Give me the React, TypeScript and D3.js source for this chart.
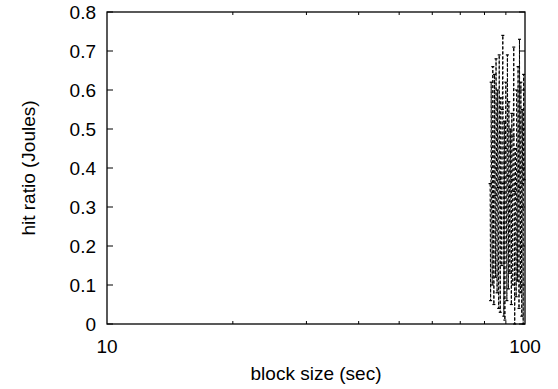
import React, { useEffect, useRef } from 'react'
import * as d3 from 'd3'

// block size (sec) and hit ratio samples
const blockSize = [
  82.5, 82.75, 83.0, 83.25, 83.5, 83.75, 84.0, 84.25, 84.5, 84.75,
  85.0, 85.25, 85.5, 85.75, 86.0, 86.25, 86.5, 86.75, 87.0, 87.25,
  87.5, 87.75, 88.0, 88.25, 88.5, 88.75, 89.0, 89.25, 89.5, 89.75,
  90.0, 90.25, 90.5, 90.75, 91.0, 91.25, 91.5, 91.75, 92.0, 92.25,
  92.5, 92.75, 93.0, 93.25, 93.5, 93.75, 94.0, 94.25, 94.5, 94.75,
  95.0, 95.25, 95.5, 95.75, 96.0, 96.25, 96.5, 96.75, 97.0, 97.25,
  97.5, 97.75, 98.0, 98.25, 98.5, 98.75, 99.0, 99.25, 99.5
]
const hitRatio = [
  0.36, 0.06, 0.62, 0.30, 0.10, 0.66, 0.38, 0.05, 0.64, 0.33,
  0.12, 0.68, 0.40, 0.08, 0.60, 0.35, 0.04, 0.69, 0.37, 0.03,
  0.58, 0.34, 0.15, 0.55, 0.74, 0.36, 0.02, 0.52, 0.01, 0.45,
  0.62, 0.30, 0.06, 0.69, 0.38, 0.09, 0.57, 0.35, 0.13, 0.50,
  0.33, 0.05, 0.54, 0.37, 0.10, 0.48, 0.71, 0.34, 0.00, 0.45,
  0.36, 0.07, 0.60, 0.32, 0.11, 0.66, 0.39, 0.04, 0.73, 0.35,
  0.08, 0.62, 0.30, 0.02, 0.55, 0.36, 0.00, 0.64, 0.37
]
const yTicks = [0, 0.1, 0.2, 0.3, 0.4, 0.5, 0.6, 0.7, 0.8]
const xLabels = [10, 100]
const xMinor = [20, 30, 40, 50, 60, 70, 80, 90]

const width = 558
const height = 389
const margin = { top: 12, right: 33, bottom: 65, left: 107 }
const font = '"Liberation Sans", Arial, Helvetica, sans-serif'
const fontSize = '19px'

export default function App () {
  const ref = useRef<SVGSVGElement>(null)

  useEffect(() => {
    const svg = d3.select(ref.current)
    svg.selectAll('*').remove()

    const x = d3.scaleLog().domain([10, 100]).range([margin.left, width - margin.right])
    const y = d3.scaleLinear().domain([0, 0.8]).range([height - margin.bottom, margin.top])
    const x0 = x.range()[0], x1 = x.range()[1]
    const y0 = y.range()[0], y1 = y.range()[1]

    const g = svg.append('g')

    // data line (gnuplot style dashed linespoints)
    const data = blockSize.map((b, i) => ({ b, h: hitRatio[i] }))
    const line = d3.line<{ b: number, h: number }>().x(d => x(d.b)).y(d => y(d.h))
    g.append('path')
      .attr('d', line(data))
      .attr('fill', 'none')
      .attr('stroke', '#000')
      .attr('stroke-width', 1)
      .attr('stroke-dasharray', '3,2')

    g.selectAll('.pt')
      .data(data)
      .enter()
      .append('line')
      .attr('x1', d => x(d.b) - 1.5)
      .attr('x2', d => x(d.b) + 1.5)
      .attr('y1', d => y(d.h))
      .attr('y2', d => y(d.h))
      .attr('stroke', '#000')
      .attr('stroke-width', 1.2)

    // frame
    g.append('rect')
      .attr('x', x0).attr('y', y1)
      .attr('width', x1 - x0).attr('height', y0 - y1)
      .attr('fill', 'none').attr('stroke', '#000').attr('stroke-width', 1.3)

    // y ticks both sides
    yTicks.forEach(t => {
      g.append('line').attr('x1', x0).attr('x2', x0 + 6).attr('y1', y(t)).attr('y2', y(t)).attr('stroke', '#000')
      g.append('line').attr('x1', x1).attr('x2', x1 - 6).attr('y1', y(t)).attr('y2', y(t)).attr('stroke', '#000')
      g.append('text')
        .attr('x', x0 - 11).attr('y', y(t))
        .attr('text-anchor', 'end').attr('dominant-baseline', 'central')
        .style('font-family', font).style('font-size', fontSize)
        .text(d3.format('')(t))
    })

    // x minor ticks top and bottom
    xMinor.forEach(t => {
      g.append('line').attr('x1', x(t)).attr('x2', x(t)).attr('y1', y0).attr('y2', y0 - 3).attr('stroke', '#000')
      g.append('line').attr('x1', x(t)).attr('x2', x(t)).attr('y1', y1).attr('y2', y1 + 3).attr('stroke', '#000')
    })

    xLabels.forEach(t => {
      g.append('text')
        .attr('x', x(t)).attr('y', 353)
        .attr('text-anchor', 'middle')
        .style('font-family', font).style('font-size', fontSize)
        .text(t)
    })

    g.append('text')
      .attr('x', (x0 + x1) / 2).attr('y', 380)
      .attr('text-anchor', 'middle')
      .style('font-family', font).style('font-size', fontSize)
      .text('block size (sec)')

    g.append('text')
      .attr('transform', `translate(35, ${(y0 + y1) / 2}) rotate(-90)`)
      .attr('text-anchor', 'middle')
      .style('font-family', font).style('font-size', fontSize)
      .text('hit ratio (Joules)')
  }, [])

  return (
    <svg ref={ref} width={width} height={height}
      style={{ position: 'absolute', left: 0, top: 0, background: '#fff' }} />
  )
}
